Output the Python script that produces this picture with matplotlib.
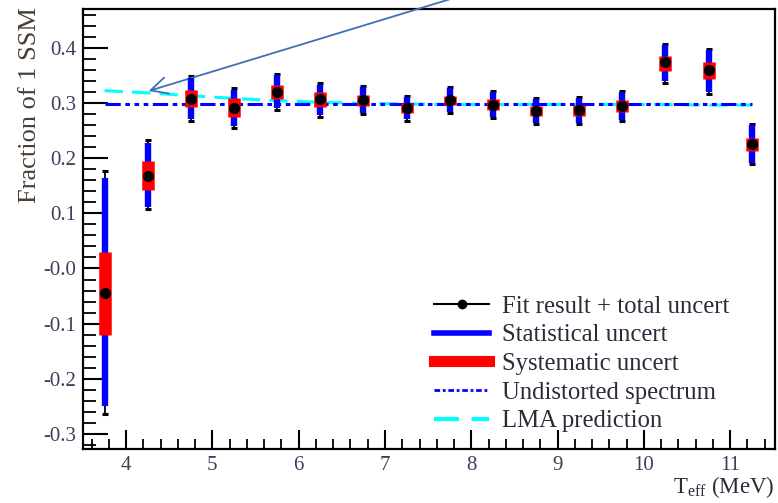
import numpy as np
import matplotlib.pyplot as plt
from matplotlib.lines import Line2D
from matplotlib.ticker import MultipleLocator

# Bin centres of kinetic energy (MeV)
t_eff = [3.75, 4.25, 4.75, 5.25, 5.75, 6.25, 6.75, 7.25,
         7.75, 8.25, 8.75, 9.25, 9.75, 10.25, 10.75, 11.25]
# Fitted fraction of 1 SSM
frac = [-0.045, 0.168, 0.307, 0.291, 0.320, 0.307, 0.305, 0.290,
        0.305, 0.296, 0.286, 0.287, 0.295, 0.374, 0.360, 0.226]
# Statistical uncertainty (upper, lower)
stat_up = [0.209, 0.060, 0.038, 0.032, 0.030, 0.026, 0.024, 0.021,
           0.022, 0.023, 0.021, 0.022, 0.024, 0.031, 0.035, 0.034]
stat_lo = [0.205, 0.056, 0.037, 0.033, 0.030, 0.029, 0.023, 0.020,
           0.021, 0.021, 0.022, 0.023, 0.026, 0.035, 0.040, 0.035]
# Systematic uncertainty (upper, lower)
sys_up = [0.075, 0.027, 0.016, 0.018, 0.013, 0.012, 0.009, 0.010,
          0.008, 0.011, 0.009, 0.009, 0.010, 0.011, 0.014, 0.010]
sys_lo = [0.075, 0.025, 0.014, 0.016, 0.013, 0.014, 0.010, 0.008,
          0.009, 0.009, 0.010, 0.011, 0.011, 0.016, 0.017, 0.014]
# Total uncertainty (upper, lower)
tot_up = [0.222, 0.065, 0.041, 0.036, 0.033, 0.029, 0.026, 0.023,
          0.024, 0.026, 0.023, 0.024, 0.026, 0.033, 0.038, 0.036]
tot_lo = [0.218, 0.061, 0.040, 0.037, 0.033, 0.032, 0.025, 0.022,
          0.023, 0.023, 0.024, 0.025, 0.028, 0.038, 0.044, 0.037]

undistorted = [0.298] * len(t_eff)
lma = [0.322, 0.318, 0.313, 0.308, 0.304, 0.301, 0.299, 0.298,
       0.297, 0.297, 0.297, 0.297, 0.297, 0.297, 0.296, 0.296]

yticks = [-0.3, -0.2, -0.1, 0.0, 0.1, 0.2, 0.3, 0.4]
ylabels = ['-0.3', '-0.2', '-0.1', '-0.0', '0.1', '0.2', '0.3', '0.4']
xticks = [4, 5, 6, 7, 8, 9, 10, 11]

plt.rcParams['font.family'] = ['Liberation Serif', 'DejaVu Serif']

fig = plt.figure(figsize=(7.78, 5.03), dpi=100)
ax = fig.add_axes([83 / 778, 54 / 503, 692 / 778, 440 / 503])

x = np.array(t_eff)
y = np.array(frac)

ax.plot(x, undistorted, color='#0000ff', lw=2.2,
        dashes=[5, 1.5, 1.5, 1.5, 1.5, 1.5, 1.5, 1.5], zorder=2)
ax.plot(x, lma, color='#00ffff', lw=2.2, dashes=[6, 3], zorder=1.5)

# total, statistical and systematic bars stacked on each point
ax.errorbar(x, y, yerr=[tot_lo, tot_up], fmt='none', ecolor='black',
            elinewidth=1.3, capsize=2.5, capthick=2.2, zorder=3)
ax.vlines(x, y - np.array(stat_lo), y + np.array(stat_up),
          color='#0000ff', lw=4.6, zorder=4)
ax.vlines(x, y - np.array(sys_lo), y + np.array(sys_up),
          color='#ff0000', lw=9, zorder=5)
ax.plot(x, y, 'o', color='black', ms=7, zorder=6)

ax.set_xlim(3.5, 11.52)
ax.set_ylim(-0.327, 0.47)
ax.set_yticks(yticks)
ax.set_yticklabels(ylabels)
ax.set_xticks(xticks)
ax.xaxis.set_minor_locator(MultipleLocator(0.2))
ax.yaxis.set_minor_locator(MultipleLocator(0.02))
ax.tick_params(which='major', direction='in', length=14, width=1.5,
               labelsize=15, labelcolor='#3d3d5c', top=False, right=False)
ax.tick_params(axis='y', which='major', length=18, pad=5)
ax.tick_params(which='minor', direction='in', length=7, width=1.3,
               top=False, right=False)
ax.tick_params(axis='y', which='minor', length=9)
ax.tick_params(axis='x', pad=5)
for s in ax.spines.values():
    s.set_linewidth(1.6)

ax.set_ylabel('Fraction of 1 SSM', fontsize=19, color='#4a3f35')
ax.yaxis.set_label_coords(-0.061, 1.005)
ax.yaxis.label.set_horizontalalignment('right')
ax.text(1.0, -0.099, r'T$_{\mathregular{eff}}$ (MeV)', transform=ax.transAxes,
        ha='right', va='baseline', fontsize=16.5, color='#2b2b3a')

# arrow pointing at the LMA curve
ax.annotate('', xy=(4.23, 0.32), xytext=(7.8, 0.49),
            arrowprops=dict(arrowstyle='->', color='#3f6fb5', lw=1.3,
                            mutation_scale=30),
            annotation_clip=False)

handles = [
    Line2D([], [], color='black', lw=1.5, marker='o', ms=6),
    Line2D([], [], color='#0000ff', lw=4),
    Line2D([], [], color='#ff0000', lw=8),
    Line2D([], [], color='#0000ff', lw=2, dashes=[2, 1, 1, 1]),
    Line2D([], [], color='#00ffff', lw=3, dashes=[6, 3]),
]
labels = ['Fit result + total uncert', 'Statistical uncert',
          'Systematic uncert', 'Undistorted spectrum', 'LMA prediction']
leg = ax.legend(handles, labels, loc='lower right', frameon=False,
                fontsize=17.8, handlelength=2.25, handletextpad=0.5,
                labelspacing=0.26, bbox_to_anchor=(0.966, -0.013))
for t in leg.get_texts():
    t.set_color('#2b2b3a')

fig.savefig('out.png', dpi=100)
